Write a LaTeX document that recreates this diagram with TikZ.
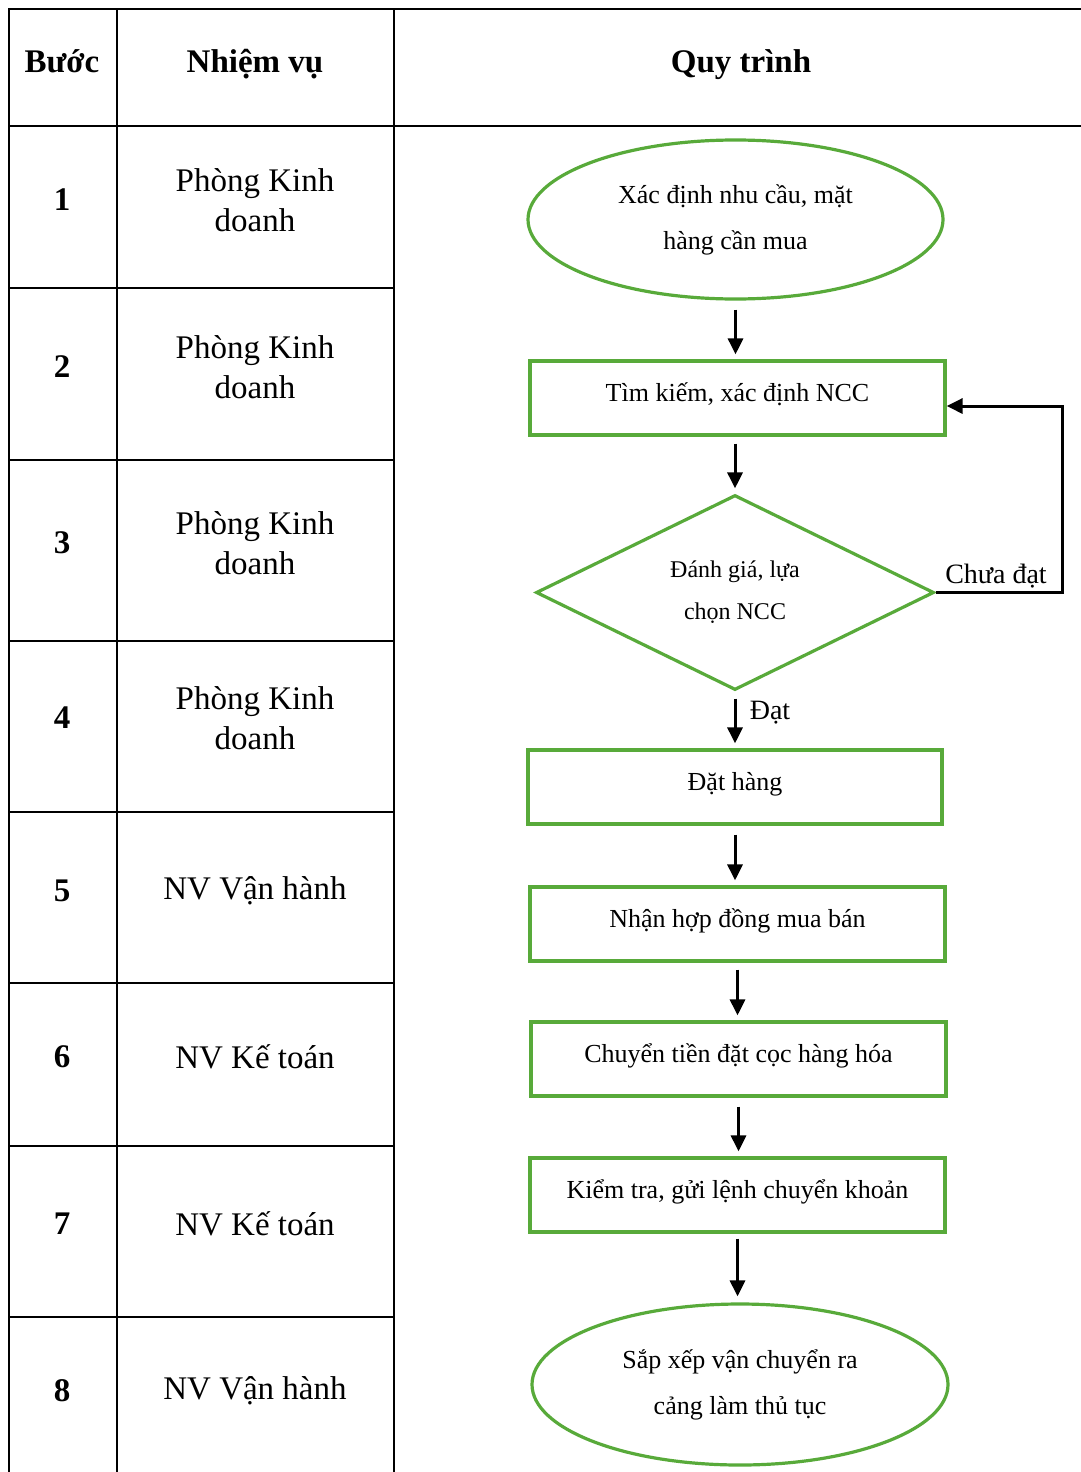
\documentclass[tikz,border=0pt]{standalone}
\usepackage{fontspec}
\setmainfont{Liberation Serif}
\usetikzlibrary{arrows.meta,shapes.geometric}
\definecolor{flowgreen}{RGB}{88,170,58}
\tikzset{
  gridline/.style={line width=1.3pt},
  stepbox/.style={draw=flowgreen, line width=1.6pt, rectangle, minimum width=207.5pt, minimum height=37pt, inner sep=0pt, text height=9pt, text depth=6pt, font=\fontsize{13}{16}\selectfont},
  endoval/.style={draw=flowgreen, line width=1.6pt, ellipse, inner sep=0pt, align=center, font=\fontsize{13}{23}\selectfont},
  choice/.style={draw=flowgreen, line width=1.6pt, diamond, aspect=2, minimum width=199pt, minimum height=97.5pt, inner sep=0pt, align=center, font=\fontsize{12}{21}\selectfont},
  flowarrow/.style={line width=1.5pt, -{Triangle[length=8pt,width=7.5pt]}},
  cell/.style={font=\fontsize{16.5}{20}\selectfont, align=center},
  headcell/.style={font=\fontsize{16.5}{20}\selectfont\bfseries},
  headrow/.style={headcell, text height=13pt, text depth=3pt},
  tag/.style={font=\fontsize{14}{16}\selectfont, inner sep=1pt},
}

\begin{document}
\begin{tikzpicture}[x=0.5pt, y=-0.5pt]
			%%%%% START %%%%%
			\useasboundingbox (0, 0) rectangle (1081, 1472);
			
			% table
			\draw[gridline] (1081, 9) -- (9, 9) -- (9, 1472);
			\draw[gridline] (117, 9) -- (117, 1472);
			\draw[gridline] (394, 9) -- (394, 1472);
			\draw[gridline] (9, 126) -- (1081, 126);
			\foreach \y in {288, 460, 641, 812, 983, 1146, 1317}
				\draw[gridline] (9, \y) -- (394, \y);
			
			\node[headrow] (hstep) at (62, 62) {Bước};
			\node[headrow] (htask) at (255, 62) {Nhiệm vụ};
			\node[headrow] (hflow) at (741, 62) {Quy trình};
			
			\foreach \n/\y/\task in {1/200/{Phòng Kinh\\doanh}, 2/367/{Phòng Kinh\\doanh}, 3/543/{Phòng Kinh\\doanh}, 4/718/{Phòng Kinh\\doanh}, 5/891/{NV Vận hành}, 6/1057/{NV Kế toán}, 7/1224/{NV Kế toán}, 8/1391/{NV Vận hành}}{
				\node[headcell] (num\n) at (62, \y) {\n};
				\node[cell] (task\n) at (255, \y) {\task};
			}
			
			% flow
			\node[endoval, minimum width=207.5pt, minimum height=79.5pt] (need) at (735.5, 219.5) {Xác định nhu cầu, mặt\\hàng cần mua};
			\node[stepbox] (find) at (737.5, 398) {Tìm kiếm, xác định NCC};
			\node[choice] (rate) at (735, 592.5) {Đánh giá, lựa\\chọn NCC};
			\node[stepbox, minimum width=207pt] (order) at (735, 787) {Đặt hàng};
			\node[stepbox] (deal) at (737.5, 924) {Nhận hợp đồng mua bán};
			\node[stepbox] (deposit) at (738.5, 1059) {Chuyển tiền đặt cọc hàng hóa};
			\node[stepbox] (check) at (737.5, 1195) {Kiểm tra, gửi lệnh chuyển khoản};
			\node[endoval, minimum width=208pt, minimum height=80.5pt] (ship) at (740, 1384.5) {Sắp xếp vận chuyển ra\\cảng làm thủ tục};
			
			\draw[flowarrow, shorten <=4.5pt, shorten >=2.5pt] (need.south) -- (need.south |- find.north);
			\draw[flowarrow, shorten <=3.5pt, shorten >=2.5pt] (find.south -| rate.north) -- (rate.north);
			\draw[flowarrow, shorten <=3.5pt, shorten >=2.5pt] (rate.south) -- (rate.south |- order.north);
			\draw[flowarrow, shorten <=4.5pt, shorten >=2.5pt] (order.south) -- (order.south |- deal.north);
			\draw[flowarrow, shorten <=3.5pt, shorten >=2.5pt] (deal.south) -- (deal.south |- deposit.north);
			\draw[flowarrow, shorten <=4.5pt, shorten >=2.5pt] (deposit.south) -- (deposit.south |- check.north);
			\draw[flowarrow, shorten <=2.5pt, shorten >=3pt] (check.south) -- (check.south |- ship.north);
			
			\coordinate (back) at (1062, 595);
			\coordinate (findin) at ([yshift=-4pt]find.east);
			\draw[flowarrow] (rate.east) -- (rate.east -| back) -- (back |- findin) -- (findin);
			
			\node[tag] (notyet) at (996, 576) {Chưa đạt};
			\node[tag] (passed) at (770, 713) {Đạt};
			
			%%%%% END %%%%%
\end{tikzpicture}
\end{document}
